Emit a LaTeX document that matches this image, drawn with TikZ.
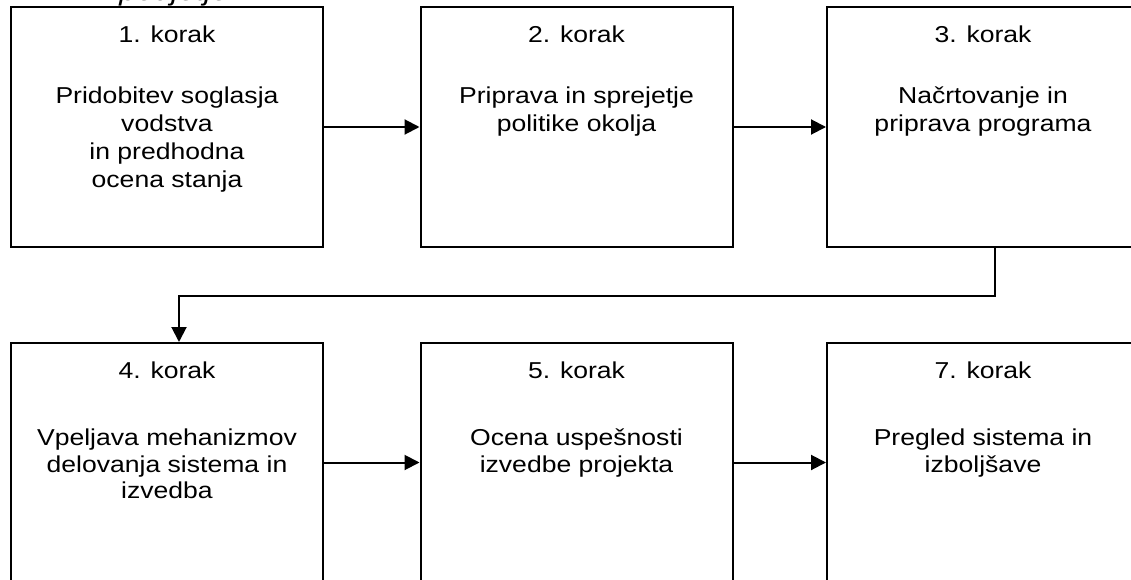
\documentclass[tikz,border=0pt]{standalone}
\usepackage{fontspec}
\setmainfont{Liberation Sans}[FakeStretch=1.155]
\usetikzlibrary{arrows.meta}
\tikzset{
  stepbox/.style={draw=black, line width=2pt, rectangle, minimum width=312pt, minimum height=239pt, inner sep=0pt},
  toptext/.style={anchor=north, align=center, inner sep=0pt, font=\fontsize{23}{27.8}\selectfont},
  bottext/.style={anchor=north, align=center, inner sep=0pt, font=\fontsize{23}{26.5}\selectfont},
  arr/.style={line width=2pt, -{Triangle[length=15pt,width=15pt]}},
}
\begin{document}
\begin{tikzpicture}[x=1pt,y=-1pt]
\useasboundingbox (0,0) rectangle (1131,580);
% boxes
\node[stepbox] (b1) at (167,127) {};
\node[stepbox] (b2) at (576.5,127) {};
\node[stepbox] (b3) at (983,127) {};
\node[stepbox] (b4) at (167,462.5) {};
\node[stepbox] (b5) at (576.5,462.5) {};
\node[stepbox] (b7) at (983,462.5) {};
% title fragment
\node[anchor=base, inner sep=0pt, font=\fontsize{27}{30}\selectfont\itshape] (title) at (174,1) {podjetje};
% texts
\node[toptext] (t1) at ([yshift=-19.5pt]b1.north) {1. korak\\[33pt]Pridobitev soglasja\\vodstva\\in predhodna\\ocena stanja};
\node[toptext] (t2) at ([yshift=-19.5pt]b2.north) {2. korak\\[33pt]Priprava in sprejetje\\politike okolja};
\node[toptext] (t3) at ([yshift=-19.5pt]b3.north) {3. korak\\[33pt]Načrtovanje in\\priprava programa};
\node[bottext] (t4) at ([yshift=-19.5pt]b4.north) {4. korak\\[41pt]Vpeljava mehanizmov\\delovanja sistema in\\izvedba};
\node[bottext] (t5) at ([yshift=-19.5pt]b5.north) {5. korak\\[41pt]Ocena uspešnosti\\izvedbe projekta};
\node[bottext] (t7) at ([yshift=-19.5pt]b7.north) {7. korak\\[41pt]Pregled sistema in\\izboljšave};
% connectors
\draw[arr] (b1.east) -- (b2.west);
\draw[arr] (b2.east) -- (b3.west);
\draw[arr] ([xshift=12pt]b3.south) -- ++(0,48.5) -| ([xshift=12pt]b4.north);
\draw[arr] (b4.east) -- (b5.west);
\draw[arr] (b5.east) -- (b7.west);
\end{tikzpicture}
\end{document}
